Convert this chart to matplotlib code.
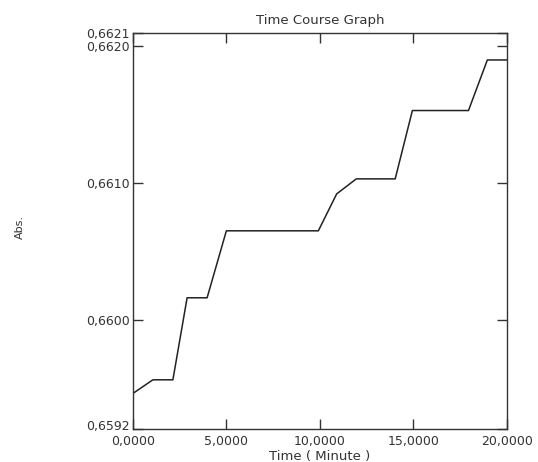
import matplotlib
matplotlib.use("Agg")
import matplotlib.pyplot as plt
from matplotlib.ticker import FuncFormatter
from matplotlib.transforms import ScaledTranslation

# readings off the scanned time course
time_min = [0.0, 1.07, 2.14, 2.9, 3.97, 5.0, 9.92, 10.9, 11.95, 14.03, 14.95, 17.95, 18.96, 20.0]
absorb = [0.65946, 0.65956, 0.65956, 0.66016, 0.66016, 0.66065, 0.66065,
          0.66092, 0.66103, 0.66103, 0.66153, 0.66153, 0.66190, 0.66190]

x_ticks = [0, 5, 10, 15, 20]
y_ticks = [0.6592, 0.6600, 0.6610, 0.6620, 0.6621]

def comma(v, pos):
    return ("%.4f" % v).replace(".", ",")

fig = plt.figure(figsize=(5.38, 4.62), dpi=100)
ax = fig.add_axes([0.247, 0.0714, 0.695, 0.858])

ax.plot(time_min, absorb, color="#222222", lw=1.1)

ax.set_xlim(0, 20)
ax.set_ylim(0.6592, 0.6621)
ax.set_xticks(x_ticks)
ax.set_yticks(y_ticks)
ax.xaxis.set_major_formatter(FuncFormatter(comma))
ax.yaxis.set_major_formatter(FuncFormatter(comma))
ax.tick_params(direction="in", length=7, width=1, top=True, right=True,
               labelsize=9, colors="#333333")
ax.tick_params(axis="x", pad=4)
ax.tick_params(axis="y", pad=2)
for s in ax.spines.values():
    s.set_color("#333333")
    s.set_linewidth(1)

# nudge the lowest y label up so it clears the 0,0000 label
fig.canvas.draw()
lab = ax.get_yticklabels()[0]
lab.set_transform(lab.get_transform() + ScaledTranslation(0, 3 / 72, fig.dpi_scale_trans))

ax.set_title("Time Course Graph", fontsize=9.5, color="#333333", pad=6)
ax.set_xlabel("Time ( Minute )", fontsize=9.5, color="#333333")
ax.xaxis.set_label_coords(0.5, -0.052)
ax.set_ylabel("Abs.", fontsize=8, color="#333333")
ax.yaxis.set_label_coords(-0.29, 0.51)

fig.savefig("out.png", dpi=100, facecolor="white")
